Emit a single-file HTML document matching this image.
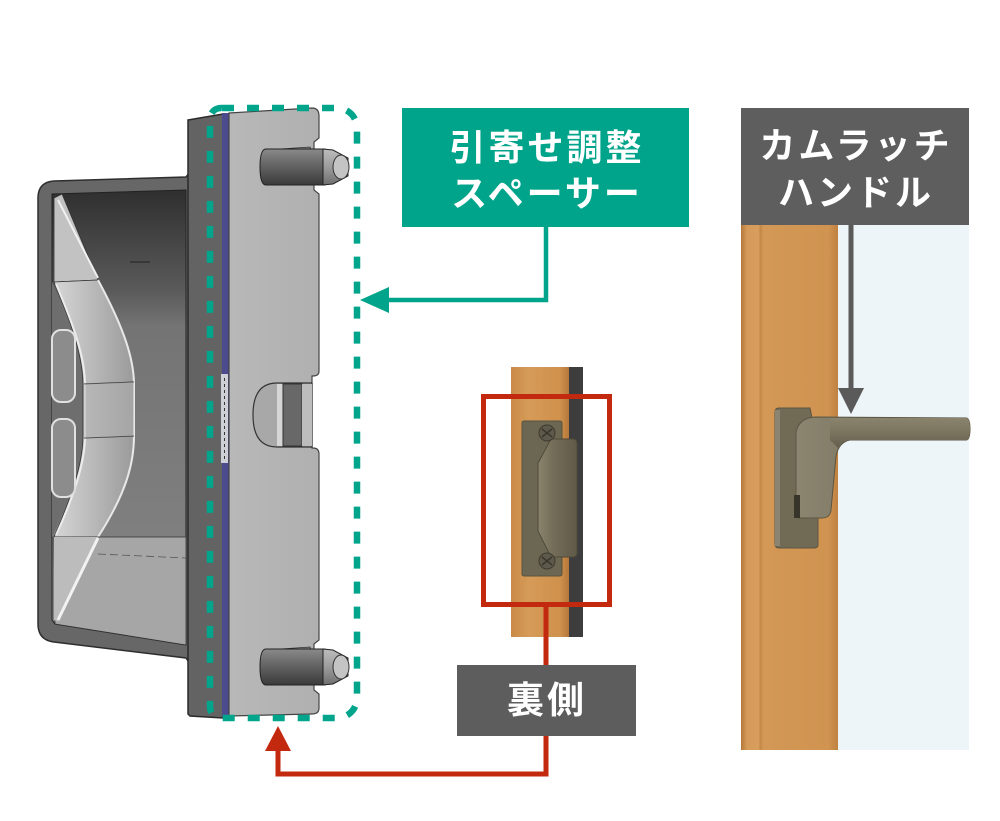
<!DOCTYPE html>
<html><head><meta charset="utf-8"><style>
html,body{margin:0;padding:0;background:#fff;}
svg{display:block;}
text{font-family:"Liberation Sans","Noto Sans CJK JP",sans-serif;font-weight:bold;fill:#fff;}
</style></head><body>
<svg width="1000" height="821" viewBox="0 0 1000 821" xmlns="http://www.w3.org/2000/svg">
<defs>
<linearGradient id="intg" x1="0" y1="0" x2="0" y2="1">
<stop offset="0" stop-color="#2f2f2f"/><stop offset="0.22" stop-color="#5a5a5a"/><stop offset="0.3" stop-color="#747474"/><stop offset="1" stop-color="#858585"/>
</linearGradient>
<linearGradient id="bandg" x1="0" y1="0" x2="1" y2="0">
<stop offset="0" stop-color="#d6d6d6"/><stop offset="1" stop-color="#9a9a9a"/>
</linearGradient>
<linearGradient id="pin" x1="0" y1="0" x2="0" y2="1">
<stop offset="0" stop-color="#8a8a8a"/><stop offset="0.35" stop-color="#6c6c6c"/><stop offset="1" stop-color="#3a3a3a"/>
</linearGradient>
<linearGradient id="tip" x1="0" y1="0" x2="0" y2="1">
<stop offset="0" stop-color="#bdbdbd"/><stop offset="0.5" stop-color="#9c9c9c"/><stop offset="1" stop-color="#6e6e6e"/>
</linearGradient>
<linearGradient id="plate" x1="0" y1="0" x2="1" y2="0">
<stop offset="0" stop-color="#b8b8b8"/><stop offset="1" stop-color="#b0b0b0"/>
</linearGradient>
<linearGradient id="wood1" x1="0" y1="0" x2="1" y2="0">
<stop offset="0" stop-color="#c98a46"/><stop offset="0.3" stop-color="#d69b58"/><stop offset="0.85" stop-color="#cf914c"/><stop offset="1" stop-color="#b4773a"/>
</linearGradient>
<linearGradient id="wood2" x1="0" y1="0" x2="1" y2="0">
<stop offset="0" stop-color="#b47739"/><stop offset="0.06" stop-color="#d49a5a"/><stop offset="0.18" stop-color="#d89e5e"/><stop offset="0.2" stop-color="#c48745"/><stop offset="0.23" stop-color="#d49856"/><stop offset="0.9" stop-color="#d09350"/><stop offset="1" stop-color="#c08140"/>
</linearGradient>
<linearGradient id="raise" x1="0" y1="0" x2="1" y2="0">
<stop offset="0" stop-color="#8a846d"/><stop offset="0.4" stop-color="#736d58"/><stop offset="1" stop-color="#5f5a48"/>
</linearGradient>
<linearGradient id="grip" x1="0" y1="0" x2="1" y2="0">
<stop offset="0" stop-color="#8c8570"/><stop offset="0.5" stop-color="#7a7460"/><stop offset="1" stop-color="#6c6653"/>
</linearGradient>
<linearGradient id="bar" x1="0" y1="0" x2="0" y2="1">
<stop offset="0" stop-color="#8a846f"/><stop offset="0.5" stop-color="#7a745f"/><stop offset="1" stop-color="#625d4b"/>
</linearGradient>
</defs>

<!-- ===== LEFT CAD PART ===== -->
<path d="M38,198 Q38,182 54,181 L186,177 L190,172 L190,664 L186,658 L54,642 Q38,640 38,624 Z" fill="#676767" stroke="#2e2e2e" stroke-width="1.5"/>
<path d="M52,194 L186,190 L186,645 L55,624 L52,620 Z" fill="url(#intg)" stroke="#222" stroke-width="1"/>
<path d="M52,282 C70,320 83,355 83,385 L83,436 C83,465 70,500 52,537 Z" fill="#6e6e6e"/>
<path d="M54,198 L62,194 L98,280 L54,282 Z" fill="#c2c2c2" stroke="#333" stroke-width="0.8"/>
<path d="M58,200 L98,278" stroke="#f0f0f0" stroke-width="2"/>
<path d="M54,282 L98,280 C125,330 134,360 134,385 L134,436 C134,465 125,495 98,537 L54,537 C70,500 83,465 83,436 L83,385 C83,355 70,320 54,282 Z" fill="url(#bandg)" stroke="#333" stroke-width="0.8"/>
<path d="M98,280 C125,330 134,360 134,385 L134,436 C134,465 125,495 98,537" fill="none" stroke="#e8e8e8" stroke-width="2"/>
<path d="M56,284 C72,322 85,355 85,385 L85,436 C85,465 72,500 56,535" fill="none" stroke="#ececec" stroke-width="2"/>
<line x1="84" y1="384" x2="134" y2="382" stroke="#333" stroke-width="1"/>
<line x1="84" y1="438" x2="134" y2="436" stroke="#333" stroke-width="1"/>
<path d="M84,384 L134,382 L134,436 L84,438 Z" fill="#b0b0b0" opacity="0.5"/>
<rect x="52" y="330" width="23" height="72" rx="9" fill="#8c8c8c" stroke="#e0e0e0" stroke-width="2"/>
<rect x="52" y="419" width="23" height="78" rx="9" fill="#8c8c8c" stroke="#e0e0e0" stroke-width="2"/>
<path d="M54,537 L186,537 L186,645 L55,624 Z" fill="#a6a6a6" stroke="#333" stroke-width="0.8"/>
<path d="M54,537 L98,537 L58,622 L54,620 Z" fill="#bcbcbc"/>
<path d="M98,538 L58,620" stroke="#f2f2f2" stroke-width="3"/>
<line x1="98" y1="554" x2="186" y2="558" stroke="#555" stroke-width="0.8" stroke-dasharray="8 4"/>
<line x1="130" y1="262" x2="150" y2="262" stroke="#222" stroke-width="1"/>
<path d="M188,120 L223,114 L223,718 L190,716 L188,714 Z" fill="#636363" stroke="#2a2a2a" stroke-width="1.5"/>
<rect x="222" y="113" width="7" height="604" fill="#4b4b8e"/>
<rect x="221" y="374" width="7" height="89" fill="#cfcfd6"/>
<rect x="228" y="374" width="7" height="89" fill="#4b4b8e"/>
<line x1="224.5" y1="378" x2="224.5" y2="460" stroke="#333" stroke-width="1" stroke-dasharray="3 3"/>
<path d="M229,113 L312,108 Q319,108 319,116 L319,138 L314,142 L314,190 L319,194 L319,371 Q319,376 313,376 L312,376 L312,448 L313,448 Q319,448 319,454 L319,640 L314,644 L314,690 L319,694 L319,708 Q319,714 312,714 L229,716 Z" fill="url(#plate)" stroke="#444" stroke-width="1.2"/>
<path d="M277,383 L312,383 L312,447 L277,447 Q253,447 253,415 Q253,383 277,383 Z" fill="#a8a8a8" stroke="#333" stroke-width="1.2"/>
<rect x="277" y="384" width="6" height="62" fill="#d6d6d6"/>
<rect x="283" y="384" width="19" height="62" fill="#686868" stroke="#333" stroke-width="1"/>
<rect x="302" y="384" width="10" height="62" fill="#bdbdbd"/>
<g>
<path d="M280,149 L310,147 L312,152 L280,152 Z" fill="#888" stroke="#333" stroke-width="0.8"/>
<path d="M266,149 L325,149 L325,185 L266,185 Q260,185 260,167 Q260,149 266,149 Z" fill="url(#pin)" stroke="#222" stroke-width="1"/>
<path d="M323,149 L333,150 L348,158 L348,176 L333,184 L323,185 Z" fill="url(#tip)" stroke="#222" stroke-width="1"/>
<ellipse cx="341" cy="167" rx="8" ry="12" fill="#c4c4c4" stroke="#333" stroke-width="1"/>
</g>
<g transform="translate(0,500)">
<path d="M280,149 L310,147 L312,152 L280,152 Z" fill="#888" stroke="#333" stroke-width="0.8"/>
<path d="M266,149 L325,149 L325,185 L266,185 Q260,185 260,167 Q260,149 266,149 Z" fill="url(#pin)" stroke="#222" stroke-width="1"/>
<path d="M323,149 L333,150 L348,158 L348,176 L333,184 L323,185 Z" fill="url(#tip)" stroke="#222" stroke-width="1"/>
<ellipse cx="341" cy="167" rx="8" ry="12" fill="#c4c4c4" stroke="#333" stroke-width="1"/>
</g>

<path d="M222,108 L337,108 A20,20 0 0 1 357,128 L357,698 A20,20 0 0 1 337,718 L221,718 A11,11 0 0 1 210,707 L210,119 A11,11 0 0 1 222,108 Z" fill="none" stroke="#00a58b" stroke-width="6.5" stroke-dasharray="12 13"/>

<rect x="402" y="108" width="287" height="119" fill="#00a48a"/>
<text x="547" y="160" font-size="36" text-anchor="middle" letter-spacing="3">引寄せ調整</text>
<text x="547" y="206" font-size="36" text-anchor="middle" letter-spacing="3">スペーサー</text>
<polyline points="546,227 546,300 386,300" fill="none" stroke="#00a48a" stroke-width="4.5"/>
<polygon points="360,300 389,287 389,313" fill="#00a48a"/>

<!-- ===== MIDDLE PHOTO ===== -->
<rect x="511" y="367" width="58" height="270" fill="url(#wood1)"/>
<rect x="569" y="367" width="14" height="270" fill="#3d3d3d"/>
<rect x="522" y="421" width="40" height="155" rx="2" fill="#6c6752" stroke="#57523f" stroke-width="1"/>
<path d="M538,463 L551,439 L573,439 Q577,439 577,444 L577,553 Q577,557 573,557 L551,557 L538,531 Z" fill="url(#raise)" stroke="#4f4a3a" stroke-width="1"/>
<circle cx="547" cy="433" r="8" fill="#5d594b" stroke="#3e3a2f" stroke-width="1"/>
<path d="M542,429 L552,437 M552,429 L542,437" stroke="#3a362c" stroke-width="1.5"/>
<circle cx="547" cy="561" r="8" fill="#5d594b" stroke="#3e3a2f" stroke-width="1"/>
<path d="M542,557 L552,565 M552,557 L542,565" stroke="#3a362c" stroke-width="1.5"/>
<rect x="483.5" y="396.5" width="126" height="208" fill="none" stroke="#c2290f" stroke-width="5"/>

<line x1="546" y1="607" x2="546" y2="665" stroke="#c2290f" stroke-width="5"/>
<rect x="457" y="665" width="179" height="71" fill="#5d5d5d"/>
<text x="547" y="713" font-size="37" text-anchor="middle" letter-spacing="3">裏側</text>
<polyline points="546,736 546,774 278,774 278,748" fill="none" stroke="#c2290f" stroke-width="5"/>
<polygon points="278,726 265,751 291,751" fill="#c2290f"/>

<!-- ===== RIGHT PHOTO ===== -->
<rect x="838" y="225" width="131" height="525" fill="#eef5f8"/>
<rect x="741" y="225" width="97" height="525" fill="url(#wood2)"/>
<path d="M775,412 Q775,408 779,408 L810,408 L812,418 L818,515 L818,545 Q818,548 814,548 L779,548 Q775,548 775,544 Z" fill="#716b56" stroke="#5a5544" stroke-width="1"/>
<rect x="775" y="410" width="5" height="136" fill="#8a8470"/>
<path d="M796,432 Q799,418 815,417 L966,418 Q970,418 970,429 Q970,440 966,440 L850,440 Q839,442 836,456 L831,510 Q830,518 822,518 L800,518 Q796,518 796,510 Z" fill="url(#grip)" stroke="#5a5544" stroke-width="1"/>
<path d="M830,418 L966,418 Q970,418 970,429 Q970,440 966,440 L850,440 Q842,441 838,448 L830,440 Z" fill="url(#bar)"/>
<rect x="794" y="495" width="6" height="23" fill="#37342a"/>
<rect x="741" y="108" width="228" height="117" fill="#5e5e5e"/>
<text x="856" y="158" font-size="36" text-anchor="middle" letter-spacing="3">カムラッチ</text>
<text x="856" y="205" font-size="36" text-anchor="middle" letter-spacing="3">ハンドル</text>
<line x1="851" y1="225" x2="851" y2="392" stroke="#5a5a5a" stroke-width="5"/>
<polygon points="838,388 864,388 851,414" fill="#5a5a5a"/>
</svg>
</body></html>
